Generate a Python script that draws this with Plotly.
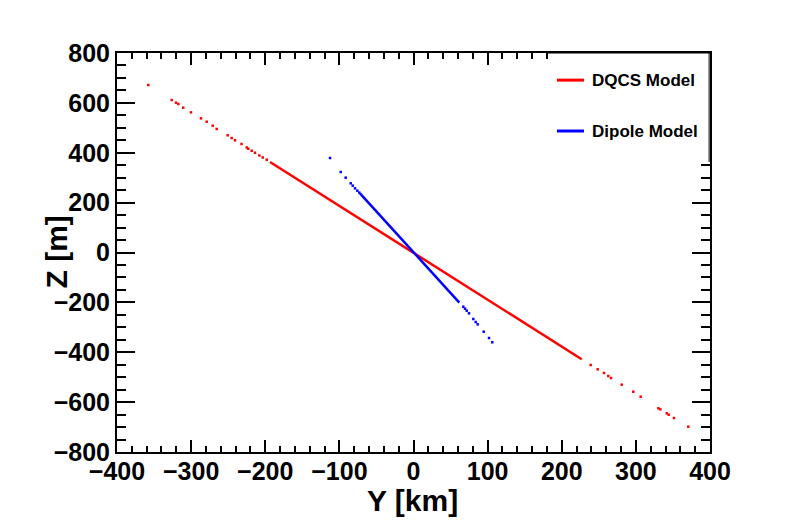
import plotly.graph_objects as go

# DQCS model: isolated points at both ends, dense band in the middle
dqcs_y = [-357.8, -326.2, -320.4, -317.3, -310.6, -300.2, -286.7, -279.0, -270.9, -265.5,
          -250.7, -245.3, -240.8, -232.0, -225.0, -223.0, -218.3, -213.8, -208.0, -203.4,
          -198.0, 239.0, 248.5, 257.0, 262.8, 266.4, 280.9, 296.5, 306.5, 330.3,
          333.0, 341.6, 344.3, 351.4, 370.7]
dqcs_z = [671.7, 611.5, 600.7, 595.5, 580.7, 562.0, 538.0, 524.5, 508.5, 495.3,
          470.0, 459.0, 450.0, 435.0, 421.0, 416.0, 408.0, 400.0, 389.0, 381.0,
          372.0, -451.0, -468.4, -483.2, -495.2, -503.2, -530.0, -558.2, -578.3, -624.8,
          -628.8, -644.8, -650.4, -663.7, -698.5]
dqcs_band_y = [-193.6, 226.9]
dqcs_band_z = [363.0, -428.0]

# Dipole model
dipole_y = [-112.6, -98.2, -91.5, -84.7, -82.0, -78.9, -75.8, -73.1,
            67.2, 69.5, 71.8, 74.9, 80.7, 83.9, 86.6, 94.7, 101.9, 106.3]
dipole_z = [379.0, 322.8, 300.0, 277.5, 268.0, 257.4, 248.0, 240.0,
            -217.3, -225.3, -233.4, -243.8, -266.7, -278.7, -288.0, -317.6, -342.9, -360.0]
dipole_band_y = [-72.2, 61.8]
dipole_band_z = [237.4, -201.0]

legend_names = ["DQCS Model", "Dipole Model"]
colors = ["#ff0000", "#0000ff"]

fig = go.Figure()
for yy, zz, by, bz, c in [(dqcs_y, dqcs_z, dqcs_band_y, dqcs_band_z, colors[0]),
                          (dipole_y, dipole_z, dipole_band_y, dipole_band_z, colors[1])]:
    fig.add_trace(go.Scatter(x=by, y=bz, mode="lines", line=dict(color=c, width=2.5),
                             showlegend=False))
    fig.add_trace(go.Scatter(x=yy, y=zz, mode="markers",
                             marker=dict(color=c, size=2.5, symbol="square", line_width=0),
                             showlegend=False))

font = dict(family="Liberation Sans, Arial, sans-serif", color="black", weight="bold")

axis_common = dict(showline=True, linecolor="black", linewidth=2, mirror="ticks",
                   ticks="inside", tickcolor="black", tickwidth=2,
                   showgrid=False, zeroline=False, tickfont=dict(size=25, **font))

fig.update_xaxes(range=[-400, 400], dtick=100, ticklen=12, ticklabelstandoff=-4,
                 minor=dict(dtick=20, ticklen=6, ticks="inside", tickcolor="black", tickwidth=2),
                 **axis_common)
fig.update_yaxes(range=[-800, 800], dtick=200, ticklen=18,
                 minor=dict(dtick=50, ticklen=9, ticks="inside", tickcolor="black", tickwidth=2),
                 **axis_common)

# axis titles placed like the ROOT canvas
fig.add_annotation(xref="paper", yref="paper", x=0.4975, y=-0.1228, text="Y [km]",
                   showarrow=False, xanchor="center", yanchor="middle",
                   font=dict(size=30, **font))
fig.add_annotation(xref="paper", yref="paper", x=-0.1012, y=0.5025, text="Z [m]",
                   showarrow=False, xanchor="center", yanchor="middle", textangle=-90,
                   font=dict(size=30, **font))

# legend box (white, covers frame ticks) with thin border on top and right
fig.add_shape(type="rect", xref="paper", yref="paper", x0=0.7268, x1=1.0, y0=0.7268, y1=1.0,
              fillcolor="white", line_width=0, layer="above")
fig.add_shape(type="line", xref="paper", yref="paper", x0=0.7268, x1=1.0, y0=1.0, y1=1.0,
              line=dict(color="black", width=1), layer="above")
fig.add_shape(type="line", xref="paper", yref="paper", x0=0.9985, x1=0.9985, y0=0.7268, y1=1.0,
              line=dict(color="black", width=1), layer="above")
for name, c, ly in zip(legend_names, colors, [0.932, 0.8045]):
    fig.add_shape(type="line", xref="paper", yref="paper", x0=0.742, x1=0.7875, y0=ly, y1=ly,
                  line=dict(color=c, width=3), layer="above")
    fig.add_annotation(xref="paper", yref="paper", x=0.7976, y=ly, text=name, showarrow=False,
                       xanchor="left", yanchor="middle", font=dict(size=17, **font))

# page body adds 8px offset, so margins are shifted accordingly
fig.update_layout(width=787, height=531, margin=dict(l=109, r=85, t=45, b=87, autoexpand=False),
                  plot_bgcolor="white", paper_bgcolor="white")
fig.write_html("out.html")
